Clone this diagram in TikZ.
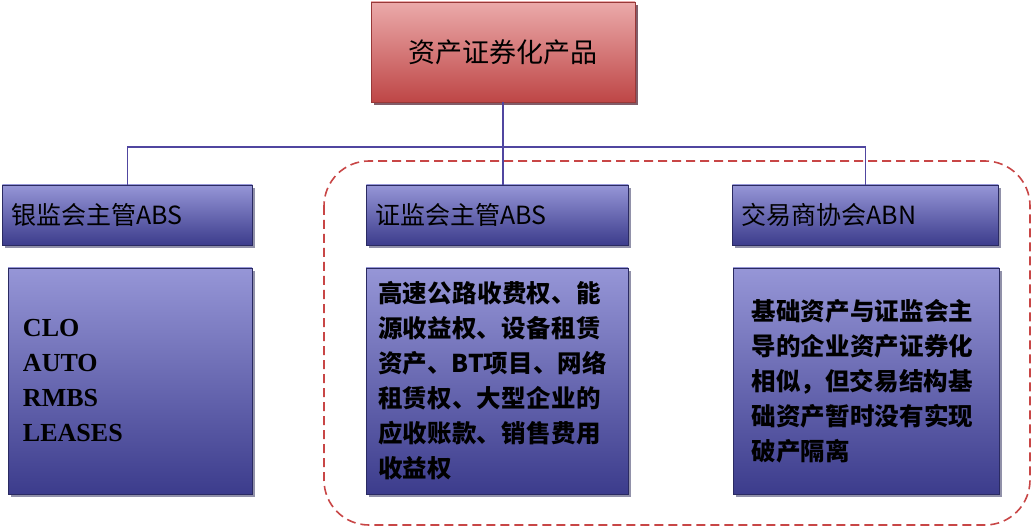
\documentclass[tikz,border=0pt]{standalone}
\usepackage{fontspec}
\setmainfont{Liberation Serif}
\newfontfamily\cjk{Noto Sans CJK SC}
\XeTeXlinebreaklocale "zh"
\XeTeXlinebreakskip=0pt plus 1pt
\usetikzlibrary{positioning,shadows}
\definecolor{azulClaro}{RGB}{150,150,215}
\definecolor{azulOscuro}{RGB}{60,60,140}
\definecolor{rojoClaro}{RGB}{235,170,170}
\definecolor{rojoOscuro}{RGB}{190,70,70}
\definecolor{linea}{RGB}{80,70,160}
\definecolor{borde}{RGB}{200,70,70}
\tikzstyle{caja}  =[draw=azulOscuro!70!black, line width=0.8pt,
                    top color=azulClaro, bottom color=azulOscuro,
                    drop shadow={shadow xshift=3pt, shadow yshift=-3pt, fill=azulOscuro!60!black},
                    inner sep=6pt, font=\fontsize{25}{30}\selectfont\cjk]
\tikzstyle{texto} =[caja, align=left,
                    font=\fontsize{24.5}{35}\selectfont\cjk\bfseries]
\tikzstyle{union} =[draw=linea, line width=1.6pt]
\begin{document}
\begin{tikzpicture}[x=1pt,y=-1pt]
    \useasboundingbox (0,0) rectangle (1033,529);

    % recuadro discontinuo
    \draw [borde, line width=1.6pt, dash pattern=on 9pt off 5pt, rounded corners=45pt]
        (324,161) rectangle (1030,525);

    % raiz
    \node (raiz) [caja, top color=rojoClaro, bottom color=rojoOscuro,
                  draw=rojoOscuro!80!black, font=\fontsize{27}{32}\selectfont\cjk,
                  drop shadow={shadow xshift=3pt, shadow yshift=-3pt, fill=rojoOscuro!60!black},
                  minimum width=264pt, minimum height=100pt] at (503,52) {资产证券化产品};

    % segundo nivel
    \node (yjh) [caja, minimum width=250pt, minimum height=60pt, anchor=west, text width=232pt]
        at (2,215) {银监会主管ABS};
    \node (zjh) [caja, minimum width=262pt, minimum height=60pt, anchor=west, text width=244pt]
        at (366,215) {证监会主管ABS};
    \node (jys) [caja, minimum width=266pt, minimum height=60pt, anchor=west, text width=248pt]
        at (732,215) {交易商协会ABN};

    % tercer nivel
    \node (yjhT) [texto, minimum width=244pt, minimum height=226pt, text width=214pt,
                  font=\fontsize{26}{35}\selectfont\bfseries]
        at (130,381) {CLO\\AUTO\\RMBS\\LEASES};
    \node (zjhT) [texto, minimum width=262pt, minimum height=226pt, text width=238pt]
        at (497,381) {高速公路收费权、能源收益权、设备租赁资产、BT项目、网络租赁权、大型企业的应收账款、销售费用收益权};
    \node (jysT) [texto, minimum width=266pt, minimum height=226pt, text width=229pt]
        at (866,381) {基础资产与证监会主导的企业资产证券化相似，但交易结构基础资产暂时没有实现破产隔离};

    % conectores
    \coordinate (cruce) at (503,147);
    \draw [union] (raiz.south) -- (cruce);
    \draw [union] (yjh.north) |- (cruce) -| (jys.north);
    \draw [union] (cruce) -- (zjh.north -| cruce);
\end{tikzpicture}
\end{document}
